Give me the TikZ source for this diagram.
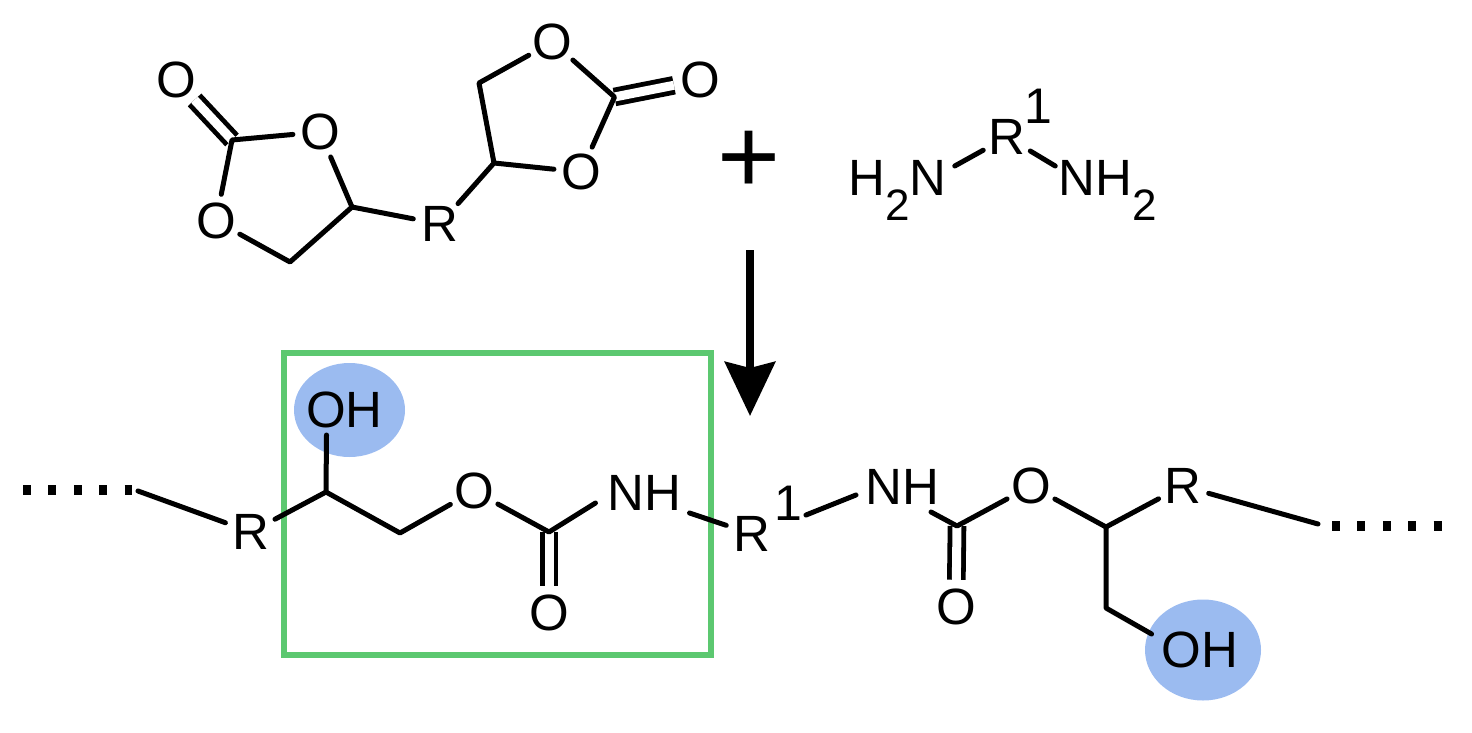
\documentclass[tikz,border=0pt]{standalone}
\usepackage{fontspec}
\setmainfont{Liberation Sans}
\usetikzlibrary{arrows.meta,shapes.geometric}
\definecolor{boxgreen}{RGB}{92,200,112}
\definecolor{ohblue}{RGB}{155,187,240}
\newcommand{\lowtwo}{\raisebox{-25pt}{\fontsize{44}{44}\selectfont 2}}
\tikzset{
  atom/.style={circle,inner sep=0pt,minimum size=54pt,font=\fontsize{51}{60}\selectfont},
  grp/.style={inner sep=0pt,anchor=base,font=\fontsize{51}{60}\selectfont},
  bond/.style={line width=5pt,line cap=round,line join=round},
  dbond/.style={double,double distance=9pt,line width=4.8pt},
  dots/.style={line width=10pt,dash pattern=on 8pt off 17.4pt},
  halo/.style={ellipse,fill=ohblue,inner sep=0pt}
}
\begin{document}
\begin{tikzpicture}[x=1pt,y=-1pt]
\useasboundingbox (0,0) rectangle (1472,733);
% highlights
\node[draw=boxgreen,line width=5.2pt,inner sep=0pt,minimum width=427pt,minimum height=302pt] (frame) at (497.5,504) {};
\node[halo,minimum width=111pt,minimum height=94pt] (halo1) at (349.5,410) {};
\node[halo,minimum width=116pt,minimum height=101pt] (halo2) at (1203,650) {};
% left dicarbonate
\node[atom] (o1) at (176,80) {O};
\node[atom] (o2) at (320,132) {O};
\node[atom] (o3) at (216,221) {O};
\coordinate (c1) at (232,140);
\coordinate (c5) at (352,207);
\coordinate (c4) at (290,262);
\node[atom] (r) at (440,224) {R};
\coordinate (c6) at (494,163);
\coordinate (c7) at (479,83);
\node[atom] (o4) at (552.5,42) {O};
\coordinate (c8) at (614.5,97);
\node[atom] (o5) at (700.6,80) {O};
\node[atom] (o6) at (581,172) {O};
\draw[dbond] (c1) -- (o1);
\draw[dbond] (c8) -- (o5);
\draw[bond] (o2) -- (c1) -- (o3);
\draw[bond] (o3) -- (c4) -- (c5) -- (o2);
\draw[bond] (c5) -- (r);
\draw[bond] (r) -- (c6) -- (c7) -- (o4);
\draw[bond] (o4) -- (c8) -- (o6);
\draw[bond] (o6) -- (c6);
% plus
\node[inner sep=0pt,font=\fontsize{108}{108}\selectfont] (plus) at (749,162) {+};
% diamine
\node[atom] (r1) at (1007,137) {R};
\node[inner sep=0pt,font=\fontsize{50}{60}\selectfont] (r1sup) at (1038,106) {1};
\node[grp] (h2n) at (897.5,195) {H\lowtwo N};
\node[grp] (nh2) at (1107.5,195) {NH\lowtwo};
\draw[bond] (r1) -- ([shift={(8,-29)}]h2n.base east);
\draw[bond] (r1) -- ([shift={(-3,-29)}]nh2.base west);
% reaction arrow
\coordinate (arrtop) at (750,250);
\coordinate (arrtip) at (750,416);
\draw[line width=8pt,-{Stealth[length=54pt,width=50pt,inset=6pt]}] (arrtop) -- (arrtip);
% product, left part
\coordinate (d1a) at (23,490);
\coordinate (d1b) at (132,490);
\draw[dots] (d1a) -- (d1b);
\coordinate (p0) at (138,491);
\node[atom] (pr1) at (251,532) {R};
\coordinate (p1) at (326,492);
\node[grp] (oh1) at (344.5,427) {OH};
\coordinate (p2) at (400,533);
\node[atom] (po1) at (474,491) {O};
\coordinate (p3) at (549,532);
\node[atom] (po2) at (549,613) {O};
\node[grp] (nh1) at (644.5,510) {NH};
\draw[dbond] (p3) -- (po2);
\draw[bond] (p0) -- (pr1);
\draw[bond] (pr1) -- (p1) -- (p2) -- (po1);
\draw[bond] (p1) -- ([shift={(-18,8)}]oh1.base);
\draw[bond] (po1) -- (p3) -- ([shift={(-12,-7)}]nh1.base west);
% product, right part
\node[atom] (pr2) at (752,534) {R};
\node[inner sep=0pt,font=\fontsize{50}{60}\selectfont] (pr2sup) at (788,503) {1};
\node[grp] (nh3) at (902,504) {NH};
\coordinate (p4) at (957,526);
\node[atom] (po3) at (956,607) {O};
\node[atom] (po4) at (1031,486) {O};
\coordinate (p5) at (1106,527);
\node[atom] (pr3) at (1182.5,486) {R};
\coordinate (p6) at (1106,608);
\node[grp] (oh2) at (1200,667) {OH};
\coordinate (p7) at (1318,524);
\coordinate (d2a) at (1332,526);
\coordinate (d2b) at (1443,526);
\draw[bond] ([shift={(8,3)}]nh1.base east) -- (pr2);
\draw[bond] (pr2sup) ++(18,12) -- ([shift={(-9,-9)}]nh3.base west);
\draw[dbond] (p4) -- (po3);
\draw[bond] ([shift={(-8,8)}]nh3.base east) -- (p4) -- (po4);
\draw[bond] (po4) -- (p5) -- (pr3);
\draw[bond] (pr3) -- (p7);
\draw[bond] (p5) -- (p6) -- ([shift={(-10,-33)}]oh2.base west);
\draw[dots] (d2a) -- (d2b);
\end{tikzpicture}
\end{document}
